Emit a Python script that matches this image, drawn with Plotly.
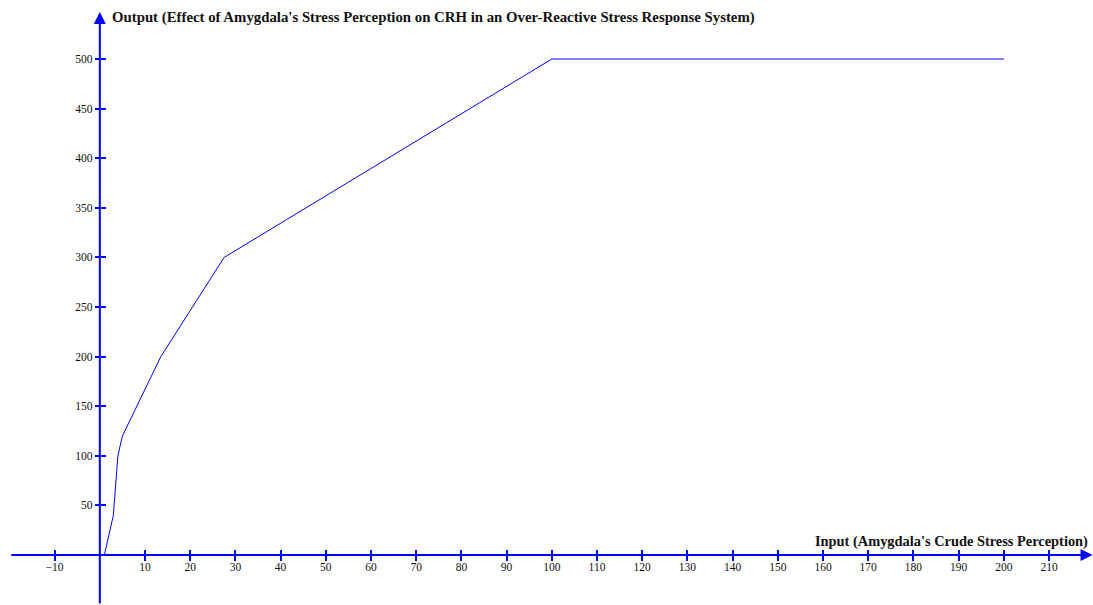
import plotly.graph_objects as go

# data
input_x = [1, 3, 4, 5, 13.5, 27.5, 100, 200]
output_y = [0, 40, 100, 120, 200, 300, 500, 500]

x_ticks = [-10, 10, 20, 30, 40, 50, 60, 70, 80, 90, 100, 110, 120, 130, 140, 150, 160, 170, 180, 190, 200, 210]
y_ticks = [50, 100, 150, 200, 250, 300, 350, 400, 450, 500]

x_title = "Input (Amygdala's Crude Stress Perception)"
y_title = "Output (Effect of Amygdala's Stress Perception on CRH in an Over-Reactive Stress Response System)"

X_RANGE = [-22.08, 219.73]
Y_RANGE = [-50.4, 559.5]
BLUE = "#0000ff"
FONT = "Liberation Serif"
TXT = "#111111"

x_pos = (0 - Y_RANGE[0]) / (Y_RANGE[1] - Y_RANGE[0])
y_pos = (0 - X_RANGE[0]) / (X_RANGE[1] - X_RANGE[0])

fig = go.Figure()
fig.add_trace(go.Scatter(x=input_x, y=output_y, mode="lines",
                         line=dict(color=BLUE, width=1), hoverinfo="x+y",
                         showlegend=False))
fig.add_trace(go.Scatter(x=input_x, y=output_y, mode="lines", xaxis="x2", yaxis="y2",
                         line=dict(color="rgba(0,0,0,0)", width=1), hoverinfo="skip",
                         showlegend=False))

common_x = dict(range=X_RANGE, showgrid=False, zeroline=False, showline=False,
                anchor="free", position=x_pos, tickvals=x_ticks, tickcolor=BLUE,
                tickwidth=1.5, ticklen=5, fixedrange=True)
common_y = dict(range=Y_RANGE, showgrid=False, zeroline=False, showline=False,
                anchor="free", position=y_pos, tickvals=y_ticks, tickcolor=BLUE,
                tickwidth=1.5, ticklen=5, fixedrange=True)

fig.update_layout(
    width=1093, height=605,
    margin=dict(l=0, r=0, t=0, b=0),
    paper_bgcolor="white", plot_bgcolor="white",
    font=dict(family=FONT, size=11.5, color=TXT),
    xaxis=dict(**common_x, ticks="outside", showticklabels=True, ticklabelstandoff=-4,
               tickfont=dict(family=FONT, size=11.5, color=TXT)),
    yaxis=dict(**common_y, ticks="outside", showticklabels=True,
               tickfont=dict(family=FONT, size=11.5, color=TXT)),
    xaxis2=dict(**common_x, ticks="inside", showticklabels=False, overlaying="x"),
    yaxis2=dict(**common_y, ticks="inside", showticklabels=False, overlaying="y"),
)

# axis lines with arrow heads
fig.add_annotation(x=X_RANGE[1] - 0.1, y=0, ax=-19.9, ay=0, xref="x", yref="y",
                   axref="x", ayref="y", text="", showarrow=True, arrowhead=2,
                   arrowsize=1.2, arrowwidth=2, arrowcolor=BLUE)
fig.add_annotation(x=0, y=547.4, ax=0, ay=Y_RANGE[0], xref="x", yref="y",
                   axref="x", ayref="y", text="", showarrow=True, arrowhead=2,
                   arrowsize=1.2, arrowwidth=2, arrowcolor=BLUE)

# axis titles
fig.add_annotation(xref="paper", yref="paper", x=1090 / 1093, y=1 - 541 / 605,
                   xanchor="right", yanchor="middle", showarrow=False,
                   text="<b>" + x_title + "</b>",
                   font=dict(family=FONT, size=14.4, color=TXT))
fig.add_annotation(xref="paper", yref="paper", x=110 / 1093, y=1 - 17 / 605,
                   xanchor="left", yanchor="middle", showarrow=False,
                   text="<b>" + y_title + "</b>",
                   font=dict(family=FONT, size=14.8, color=TXT))

fig.write_html("out.html", config={"displayModeBar": False},
               post_script="document.body.style.margin='0';document.body.style.overflow='hidden';")
